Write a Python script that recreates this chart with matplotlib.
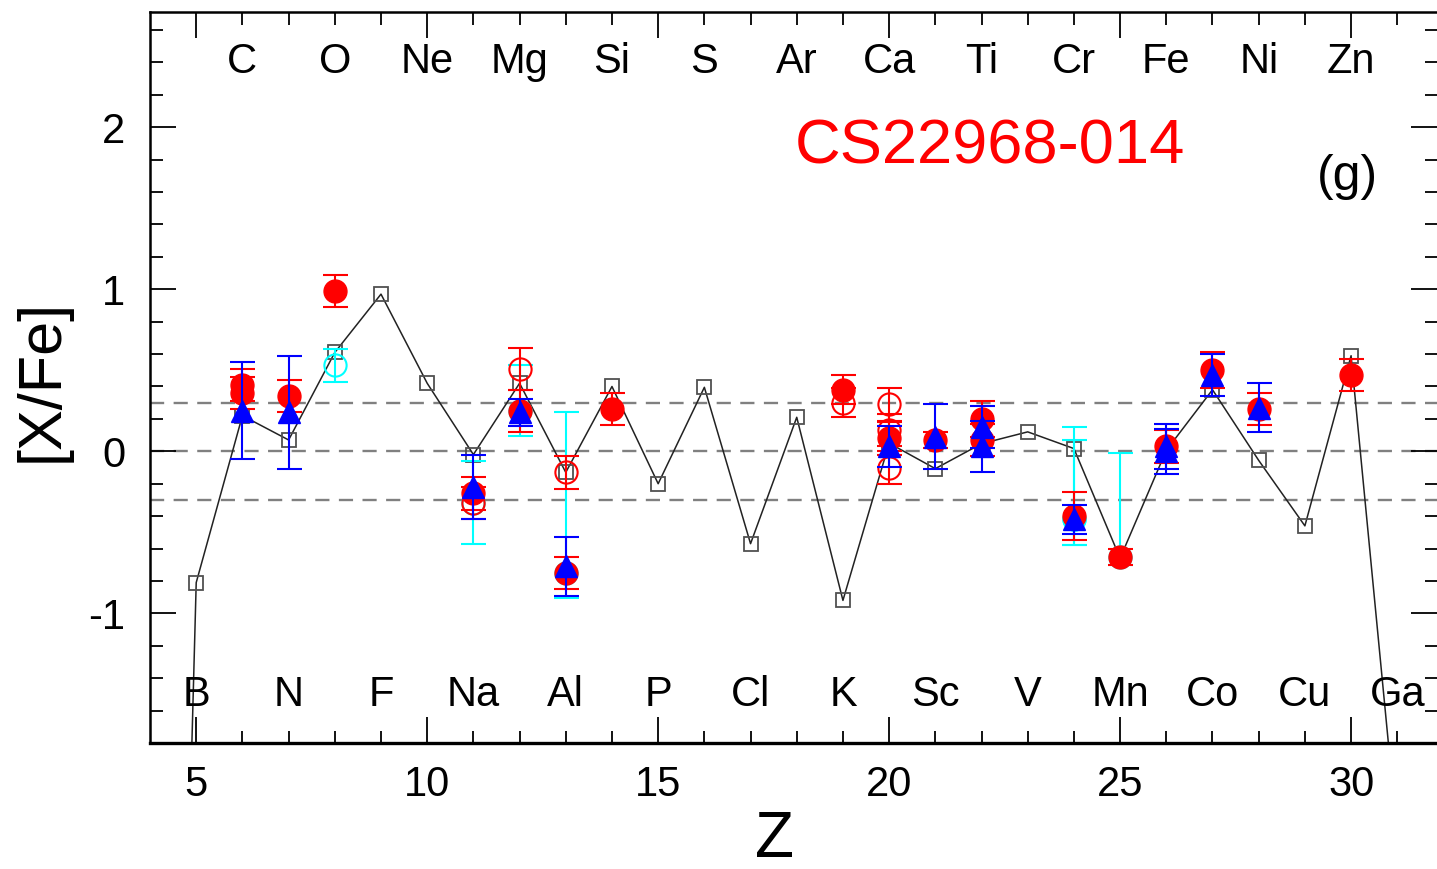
import matplotlib
matplotlib.use("Agg")
import matplotlib.pyplot as plt
from matplotlib import font_manager as fm

# font: narrow Helvetica-like if available
names = set(f.name for f in fm.fontManager.ttflist)
FONT = 'Liberation Sans Narrow' if 'Liberation Sans Narrow' in names else 'Liberation Sans'
plt.rcParams['font.family'] = [FONT, 'DejaVu Sans']

# model curve (open squares joined by a line)
model_z = [4, 5, 6, 7, 8, 9, 10, 11, 12, 13, 14, 15, 16, 17, 18, 19, 20,
           21, 22, 23, 24, 25, 26, 27, 28, 29, 30, 31]
model_y = [-11.4, -0.81, 0.22, 0.07, 0.61, 0.97, 0.42, -0.02, 0.42, -0.13,
           0.40, -0.20, 0.395, -0.57, 0.21, -0.92, 0.05, -0.107, 0.047, 0.12,
           0.017, -0.66, 0.006, 0.38, -0.056, -0.46, 0.59, -2.37]

# red filled circles
rf_z = [6, 6, 7, 8, 11, 12, 13, 14, 19, 20, 21, 22, 22, 24, 25, 26, 27, 28, 30]
rf_y = [0.41, 0.36, 0.34, 0.99, -0.26, 0.25, -0.75, 0.26, 0.38, 0.08, 0.07,
        0.20, 0.07, -0.40, -0.65, 0.03, 0.50, 0.26, 0.47]
rf_err = [0.10, 0.10, 0.10, 0.10, 0.10, 0.13, 0.10, 0.10, 0.09, 0.10, 0.05,
          0.11, 0.10, 0.15, 0.05, 0.10, 0.11, 0.10, 0.10]

# red open circles
ro_z = [11, 12, 13, 19, 20, 20, 20]
ro_y = [-0.32, 0.51, -0.13, 0.30, 0.29, 0.13, -0.10]
ro_err = [0.10, 0.13, 0.10, 0.09, 0.10, 0.10, 0.10]

# blue filled triangles
bt_z = [6, 7, 11, 12, 13, 20, 21, 22, 22, 24, 26, 26, 27, 28]
bt_y = [0.25, 0.24, -0.22, 0.24, -0.71, 0.03, 0.09, 0.15, 0.03, -0.42, 0.03,
        0.0, 0.47, 0.27]
bt_err = [0.30, 0.35, 0.20, 0.085, 0.18, 0.125, 0.20, 0.13, 0.155, 0.09,
          0.14, 0.14, 0.13, 0.15]

# cyan open circles (asymmetric errors)
cy_z = [8, 11, 12, 13, 24, 24, 25]
cy_y = [0.53, -0.32, 0.25, -0.75, -0.42, -0.42, -0.65]
cy_lo = [0.10, 0.25, 0.157, 0.155, 0.16, 0.16, 0.05]
cy_hi = [0.10, 0.26, 0.28, 0.99, 0.57, 0.49, 0.64]

top_elems = ['C', 'O', 'Ne', 'Mg', 'Si', 'S', 'Ar', 'Ca', 'Ti', 'Cr', 'Fe', 'Ni', 'Zn']
top_z = [6, 8, 10, 12, 14, 16, 18, 20, 22, 24, 26, 28, 30]
bot_elems = ['B', 'N', 'F', 'Na', 'Al', 'P', 'Cl', 'K', 'Sc', 'V', 'Mn', 'Co', 'Cu', 'Ga']
bot_z = [5, 7, 9, 11, 13, 15, 17, 19, 21, 23, 25, 27, 29, 31]

fig = plt.figure(figsize=(14.37, 8.69), dpi=100)
ax = fig.add_axes([0.1044, 0.145, 0.8956, 0.841])

# reference lines
for yv in [0.3, 0.0, -0.3]:
    ax.axhline(yv, color='#808080', lw=1.7, ls=(0, (6, 4)), zorder=1)

ax.plot(model_z, model_y, color='#222222', lw=1.1, zorder=2)
ax.plot(model_z, model_y, ls='none', marker='s', ms=10, mfc='none',
        mec='#505050', mew=1.3, zorder=2)

ekw = dict(ls='none', capsize=9, elinewidth=1.5, capthick=1.5)
ax.errorbar(cy_z, cy_y, yerr=[cy_lo, cy_hi], fmt='o', ms=16, mfc='none',
            mec='#00ffff', mew=1.5, ecolor='#00ffff', zorder=3, **ekw)
ax.errorbar(ro_z, ro_y, yerr=ro_err, fmt='o', ms=16, mfc='none',
            mec='#ff0000', mew=1.5, ecolor='#ff0000', zorder=4, **ekw)
ax.errorbar(rf_z, rf_y, yerr=rf_err, fmt='o', ms=16.5, color='#ff0000',
            ecolor='#ff0000', zorder=5, **ekw)
ax.errorbar(bt_z, bt_y, yerr=bt_err, fmt='^', ms=16, color='#0000ff',
            ecolor='#0000ff', zorder=6, **ekw)

for name, z in zip(top_elems, top_z):
    ax.text(z, 2.40, name, fontsize=30, ha='center', va='center', zorder=7)
for name, z in zip(bot_elems, bot_z):
    ax.text(z, -1.506, name, fontsize=30, ha='center', va='center', zorder=7)

ax.text(22.19, 1.88, 'CS22968-014', color='#ff0000', fontsize=45.5,
        ha='center', va='center')
ax.text(29.93, 1.69, '(g)', fontsize=36, ha='center', va='center')

ax.set_xlim(4.0, 31.86)
ax.set_ylim(-1.8, 2.71)
ax.set_xticks([5, 10, 15, 20, 25, 30])
ax.set_xticks(range(5, 32), minor=True)
ax.set_yticks([-1, 0, 1, 2])
ax.set_yticklabels(['-1', '0', '1', '2'])
ax.set_yticks([v / 10 for v in range(-18, 28, 2)], minor=True)
ax.tick_params(which='both', direction='in', top=True, right=True,
               labelsize=30, width=1.3, color='black')
ax.tick_params(which='major', length=19, pad=16)
ax.tick_params(which='minor', length=9)
ax.tick_params(axis='y', which='major', pad=18)
for s in ['left', 'top']:
    ax.spines[s].set_linewidth(1.8)
ax.spines['bottom'].set_linewidth(2.4)
ax.spines['right'].set_visible(False)

fig.text(0.029, 0.562, '[X/Fe]', rotation=90, fontsize=44, ha='center', va='center')
fig.text(0.539, 0.033, 'Z', fontsize=46, ha='center', va='center')

fig.savefig('out.png', dpi=100)
